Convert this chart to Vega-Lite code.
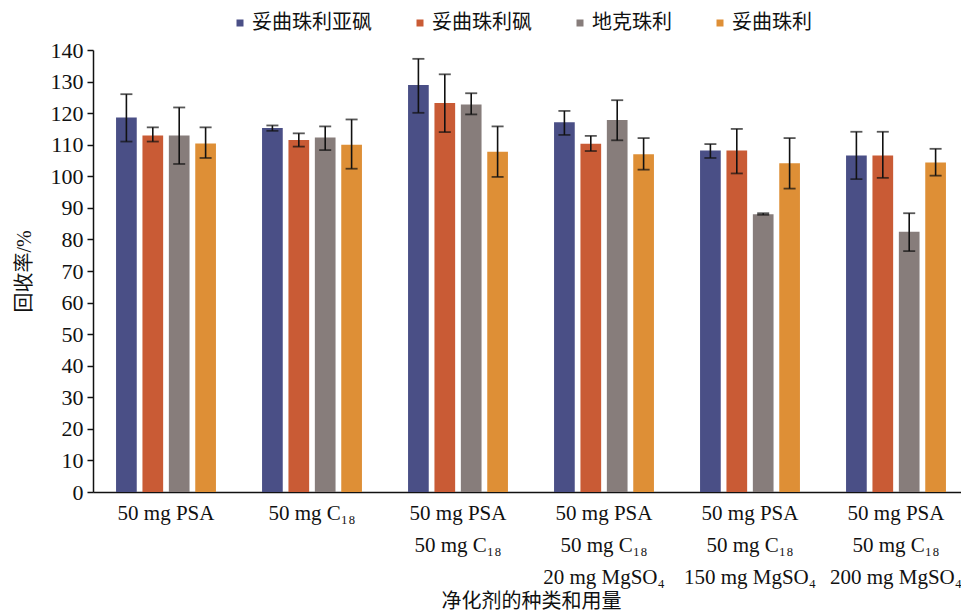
{
  "$schema": "https://vega.github.io/schema/vega-lite/v6.json",
  "width": 876,
  "height": 442,
  "autosize": {"type": "none"},
  "padding": {"left": 93, "top": 50, "right": 0, "bottom": 119},
  "background": "white",
  "config": {
    "view": {"stroke": null},
    "font": "Liberation Serif",
    "axis": {"labelFont": "Liberation Serif, Noto Sans CJK SC", "titleFont": "Liberation Serif, Noto Sans CJK SC", "labelColor": "#111", "titleColor": "#111", "domainColor": "#111", "tickColor": "#111", "titleFontWeight": "normal", "grid": false},
    "axisY": {"labelOverlap": false, "labelFont": "Liberation Serif", "labelFontSize": 22, "labelPadding": 4, "tickSize": 6, "domainWidth": 1.5, "tickWidth": 1.5, "titleFontSize": 20, "titlePadding": 16},
    "legend": {"labelFont": "Liberation Serif, Noto Sans CJK SC"}
  },
  "data": {
    "values": [
      {"group": "50 mg PSA", "series": "妥曲珠利亚砜", "value": 118.6, "lo": 111.0, "hi": 126.0},
      {"group": "50 mg PSA", "series": "妥曲珠利砜", "value": 112.9, "lo": 111.0, "hi": 115.5},
      {"group": "50 mg PSA", "series": "地克珠利", "value": 112.9, "lo": 103.9, "hi": 121.8},
      {"group": "50 mg PSA", "series": "妥曲珠利", "value": 110.4, "lo": 105.8, "hi": 115.5},
      {"group": "50 mg C₁₈", "series": "妥曲珠利亚砜", "value": 115.3, "lo": 114.4, "hi": 116.1},
      {"group": "50 mg C₁₈", "series": "妥曲珠利砜", "value": 111.5, "lo": 109.4, "hi": 113.6},
      {"group": "50 mg C₁₈", "series": "地克珠利", "value": 112.3, "lo": 108.3, "hi": 115.8},
      {"group": "50 mg C₁₈", "series": "妥曲珠利", "value": 110.0, "lo": 102.4, "hi": 118.0},
      {"group": "50 mg PSA|50 mg C₁₈", "series": "妥曲珠利亚砜", "value": 128.9, "lo": 120.1, "hi": 137.2},
      {"group": "50 mg PSA|50 mg C₁₈", "series": "妥曲珠利砜", "value": 123.2, "lo": 114.0, "hi": 132.3},
      {"group": "50 mg PSA|50 mg C₁₈", "series": "地克珠利", "value": 122.7, "lo": 119.6, "hi": 126.3},
      {"group": "50 mg PSA|50 mg C₁₈", "series": "妥曲珠利", "value": 107.8, "lo": 99.8, "hi": 115.8},
      {"group": "50 mg PSA|50 mg C₁₈|20 mg MgSO₄", "series": "妥曲珠利亚砜", "value": 117.1, "lo": 113.1, "hi": 120.7},
      {"group": "50 mg PSA|50 mg C₁₈|20 mg MgSO₄", "series": "妥曲珠利砜", "value": 110.3, "lo": 108.0, "hi": 112.8},
      {"group": "50 mg PSA|50 mg C₁₈|20 mg MgSO₄", "series": "地克珠利", "value": 117.8, "lo": 111.4, "hi": 124.1},
      {"group": "50 mg PSA|50 mg C₁₈|20 mg MgSO₄", "series": "妥曲珠利", "value": 107.0, "lo": 102.1, "hi": 112.1},
      {"group": "50 mg PSA|50 mg C₁₈|150 mg MgSO₄", "series": "妥曲珠利亚砜", "value": 108.2, "lo": 105.8, "hi": 110.2},
      {"group": "50 mg PSA|50 mg C₁₈|150 mg MgSO₄", "series": "妥曲珠利砜", "value": 108.2, "lo": 100.9, "hi": 115.0},
      {"group": "50 mg PSA|50 mg C₁₈|150 mg MgSO₄", "series": "地克珠利", "value": 88.0, "lo": 87.8, "hi": 88.3},
      {"group": "50 mg PSA|50 mg C₁₈|150 mg MgSO₄", "series": "妥曲珠利", "value": 104.1, "lo": 96.1, "hi": 112.1},
      {"group": "50 mg PSA|50 mg C₁₈|200 mg MgSO₄", "series": "妥曲珠利亚砜", "value": 106.6, "lo": 99.1, "hi": 114.1},
      {"group": "50 mg PSA|50 mg C₁₈|200 mg MgSO₄", "series": "妥曲珠利砜", "value": 106.6, "lo": 99.5, "hi": 114.1},
      {"group": "50 mg PSA|50 mg C₁₈|200 mg MgSO₄", "series": "地克珠利", "value": 82.4, "lo": 76.3, "hi": 88.3},
      {"group": "50 mg PSA|50 mg C₁₈|200 mg MgSO₄", "series": "妥曲珠利", "value": 104.4, "lo": 100.2, "hi": 108.7}
    ]
  },
  "encoding": {
    "x": {
      "field": "group", "type": "nominal", "sort": null,
      "scale": {"paddingInner": 0, "paddingOuter": 0},
      "axis": {
        "title": "净化剂的种类和用量", "titleFontSize": 20, "titlePadding": 4,
        "labelExpr": "split(datum.label, '|')", "labelAngle": 0,
        "labelFontSize": 21, "labelLineHeight": 32, "labelLimit": 400, "labelOverlap": false,
        "labelPadding": 10, "ticks": false, "domainWidth": 1.5
      }
    },
    "xOffset": {
      "field": "series", "type": "nominal",
      "sort": ["妥曲珠利亚砜", "妥曲珠利砜", "地克珠利", "妥曲珠利"],
      "scale": {"paddingInner": 0.216, "paddingOuter": 0.873}
    },
    "y": {
      "field": "value", "type": "quantitative",
      "scale": {"domain": [0, 140], "nice": false},
      "axis": {
        "title": "回收率/%",
        "values": [0, 10, 20, 30, 40, 50, 60, 70, 80, 90, 100, 110, 120, 130, 140],
        "labelOverlap": false
      }
    }
  },
  "layer": [
    {
      "mark": {"type": "bar"},
      "encoding": {
        "color": {
          "field": "series", "type": "nominal",
          "sort": ["妥曲珠利亚砜", "妥曲珠利砜", "地克珠利", "妥曲珠利"],
          "scale": {"domain": ["妥曲珠利亚砜", "妥曲珠利砜", "地克珠利", "妥曲珠利"], "range": ["#4a4f86", "#c95b35", "#877d7b", "#de8f36"]},
          "legend": {
            "title": null, "orient": "none", "legendX": 137, "legendY": -37,
            "direction": "horizontal", "columns": 4, "columnPadding": 38,
            "symbolType": "square", "symbolSize": 49, "symbolStrokeWidth": 0,
            "labelFontSize": 20, "labelOffset": 2, "labelColor": "#111"
          }
        }
      }
    },
    {
      "mark": {"type": "rule", "color": "#111", "strokeWidth": 1.6},
      "encoding": {
        "y": {"field": "lo", "type": "quantitative", "scale": {"domain": [0, 140], "nice": false}, "axis": {"title": "回收率/%", "values": [0, 10, 20, 30, 40, 50, 60, 70, 80, 90, 100, 110, 120, 130, 140], "labelOverlap": false}},
        "y2": {"field": "hi"}
      }
    },
    {
      "mark": {"type": "tick", "color": "#111", "size": 12, "thickness": 1.8, "orient": "horizontal"},
      "encoding": {"y": {"field": "lo", "type": "quantitative", "scale": {"domain": [0, 140], "nice": false}, "axis": {"title": "回收率/%", "values": [0, 10, 20, 30, 40, 50, 60, 70, 80, 90, 100, 110, 120, 130, 140], "labelOverlap": false}}}
    },
    {
      "mark": {"type": "tick", "color": "#111", "size": 12, "thickness": 1.8, "orient": "horizontal"},
      "encoding": {"y": {"field": "hi", "type": "quantitative", "scale": {"domain": [0, 140], "nice": false}, "axis": {"title": "回收率/%", "values": [0, 10, 20, 30, 40, 50, 60, 70, 80, 90, 100, 110, 120, 130, 140], "labelOverlap": false}}}
    }
  ]
}
